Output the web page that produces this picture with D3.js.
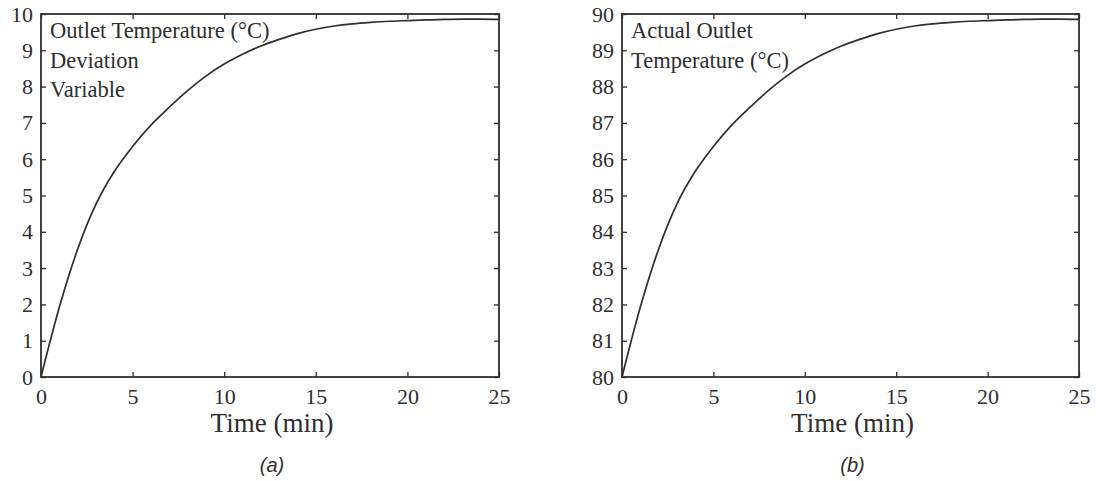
<!DOCTYPE html>
<html><head><meta charset="utf-8">
<script src="https://cdn.jsdelivr.net/npm/d3@7"></script>
<style>
body{margin:0;background:#fff;}
svg{display:block;}
</style></head>
<body>
<svg id="chart" width="1096" height="481"></svg>
<script>
// Data
const timeMin = [0,1,2,3,4,5,6,7,8,9,10,11,12,13,14,15,16,17,18,19,20,21,22,23,24,25];
const deviation = [0,1.92,3.52,4.76,5.66,6.35,6.94,7.43,7.89,8.29,8.62,8.89,9.12,9.30,9.46,9.58,9.67,9.73,9.77,9.80,9.82,9.84,9.85,9.86,9.86,9.85];
const actual = [80,81.92,83.52,84.76,85.66,86.35,86.94,87.43,87.89,88.29,88.62,88.89,89.12,89.30,89.46,89.58,89.67,89.73,89.77,89.80,89.82,89.84,89.85,89.86,89.86,89.85];
const xTicks = [0,5,10,15,20,25];
const yTicksA = [0,1,2,3,4,5,6,7,8,9,10];
const yTicksB = [80,81,82,83,84,85,86,87,88,89,90];
const annotA = ["Outlet Temperature (°C)","Deviation","Variable"];
const annotB = ["Actual Outlet","Temperature (°C)"];
const xLabel = "Time (min)";
const panelLabels = ["(a)","(b)"];

const svg = d3.select("#chart");
const serif = "'Liberation Serif','Times New Roman',serif";
const ink = "#2e2e2e";

function panel(cfg){
  const g = svg.append("g");
  const x = d3.scaleLinear().domain([0,25]).range([cfg.x0,cfg.x1]);
  const y = d3.scaleLinear().domain(cfg.ydom).range([377,14]);

  const styleAxis = (sel, hideLabels) => {
    sel.attr("font-family",null).attr("font-size",null);
    sel.select(".domain").remove();
    sel.selectAll(".tick line").attr("stroke",ink).attr("stroke-width",1.3);
    sel.selectAll(".tick text").attr("fill",ink).attr("font-family",serif).style("font-family",serif).style("font-size","22px");
    if(hideLabels) sel.selectAll(".tick text").remove();
  };

  g.append("g").attr("transform",`translate(0,377)`)
    .call(d3.axisBottom(x).tickValues(xTicks).tickSize(-5).tickPadding(11).tickFormat(d3.format("d")))
    .call(s=>styleAxis(s,false));
  g.append("g").attr("transform",`translate(0,14)`)
    .call(d3.axisTop(x).tickValues(xTicks).tickSize(-5))
    .call(s=>styleAxis(s,true));
  g.append("g").attr("transform",`translate(${cfg.x0},0)`)
    .call(d3.axisLeft(y).tickValues(cfg.yticks).tickSize(-5).tickPadding(8).tickFormat(d3.format("d")))
    .call(s=>styleAxis(s,false));
  g.append("g").attr("transform",`translate(${cfg.x1},0)`)
    .call(d3.axisRight(y).tickValues(cfg.yticks).tickSize(-5))
    .call(s=>styleAxis(s,true));

  g.append("rect").attr("x",cfg.x0).attr("y",14).attr("width",cfg.x1-cfg.x0).attr("height",363)
    .attr("fill","none").attr("stroke",ink).attr("stroke-width",1.8);

  const line = d3.line().x((d,i)=>x(timeMin[i])).y(d=>y(d)).curve(d3.curveMonotoneX);
  g.append("path").datum(cfg.values).attr("d",line)
    .attr("fill","none").attr("stroke",ink).attr("stroke-width",1.7);

  cfg.annot.forEach((t,i)=>{
    g.append("text").attr("x",cfg.x0+9).attr("y",38+i*29.5).text(t)
      .attr("fill",ink).style("font-family",serif).style("font-size","22.5px");
  });

  g.append("text").attr("x",(cfg.x0+cfg.x1)/2+2).attr("y",432).attr("text-anchor","middle")
    .text(xLabel).attr("fill",ink).style("font-family",serif).style("font-size","27px");
  g.append("text").attr("x",(cfg.x0+cfg.x1)/2+2).attr("y",472).attr("text-anchor","middle")
    .text(cfg.plabel).attr("fill",ink).style("font-family","'Liberation Sans Narrow','Liberation Sans',sans-serif")
    .style("font-style","italic").style("font-size","20px");
}

panel({x0:41,x1:499,ydom:[0,10],yticks:yTicksA,values:deviation,annot:annotA,plabel:panelLabels[0]});
panel({x0:622,x1:1079,ydom:[80,90],yticks:yTicksB,values:actual,annot:annotB,plabel:panelLabels[1]});
</script>
</body></html>
